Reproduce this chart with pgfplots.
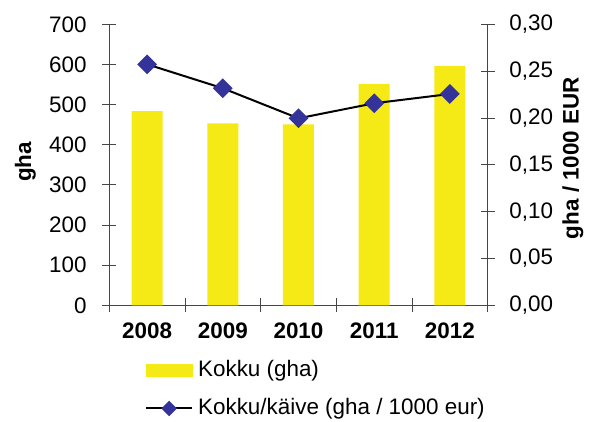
\documentclass[border=0pt]{standalone}
\usepackage{pgfplots}
\pgfplotsset{compat=1.18}
\usepackage{fontspec}
\setmainfont{Liberation Sans}
\definecolor{baryellow}{RGB}{245,234,22}
\definecolor{mkblue}{RGB}{51,51,153}
\definecolor{axgray}{RGB}{70,70,70}
\pgfplotsset{
  myline legend/.style={legend image code/.code={\draw[##1, mark repeat=2, mark phase=2, mark size=4.5bp] plot coordinates {(0bp,0bp) (23bp,0bp) (46bp,0bp)}; \path (49bp,0bp);}},
  mybar legend/.style={legend image code/.code={\fill[baryellow] (0bp,-6bp) rectangle (46bp,6bp); \path (49bp,0bp);}},
}
\begin{document}
\fontsize{22.5}{27}\selectfont
\begin{tikzpicture}
\useasboundingbox (-109.3bp,-116.7bp) rectangle (479.7bp,305.3bp);
\pgfplotsset{
  common/.style={
    at={(0,0)}, anchor=south west,
    scale only axis, width=378.4bp, height=281bp,
    xmin=-0.5, xmax=4.5,
    tick align=center, major tick length=14bp,
    tick style={axgray, line width=0.9bp},
    axis line style={-, axgray, line width=0.9bp},
    /pgf/number format/assume math mode=true,
    ticklabel style={font=\fontsize{22.5}{27}\selectfont},
    label style={font=\fontsize{22.5}{27}\selectfont\bfseries},
  }
}
\begin{axis}[common,
  ymin=0, ymax=700, ytick={0,100,200,300,400,500,600,700},
  yticklabel style={xshift=-8bp},
  xtick={-0.5,0.5,1.5,2.5,3.5,4.5}, xticklabels={},
  extra x ticks={0,1,2,3,4},
  extra x tick labels={2008,2009,2010,2011,2012},
  extra x tick style={major tick length=0pt, xticklabel style={font=\fontsize{22.5}{27}\selectfont\bfseries, yshift=-10bp}},
  axis y line*=left, axis x line*=bottom,
  ylabel={gha},
  ylabel style={at={(axis description cs:-0.222,0.51)}, anchor=center},
]
\addplot[ybar, bar width=31bp, fill=baryellow, draw=none] coordinates {(0,484) (1,453) (2,451) (3,551) (4,596)};
\end{axis}
\begin{axis}[common,
  ymin=0, ymax=0.3, ytick={0,0.05,0.1,0.15,0.2,0.25,0.3},
  axis y line*=right, axis x line=none,
  yticklabel style={xshift=7bp, /pgf/number format/.cd, fixed, fixed zerofill, precision=2, use comma},
  ylabel={gha / 1000 EUR},
  ylabel style={at={(axis description cs:1.2254,0.524)}, anchor=center},
  legend style={at={(axis description cs:0.0863,-0.18)}, anchor=north west, draw=none, fill=none,
    row sep=15bp, font=\fontsize{22.5}{27}\selectfont},
  legend cell align=left,
]
\addlegendimage{mybar legend}
\addlegendentry{Kokku (gha)}
\addplot[black, line width=2bp, mark=square*, mark size=6bp,
  mark options={fill=mkblue, draw=mkblue, rotate=45}, myline legend]
  coordinates {(0,0.2573) (1,0.2317) (2,0.1996) (3,0.2157) (4,0.2256)};
\addlegendentry{Kokku/käive (gha / 1000 eur)}
\end{axis}
\end{tikzpicture}
\end{document}
